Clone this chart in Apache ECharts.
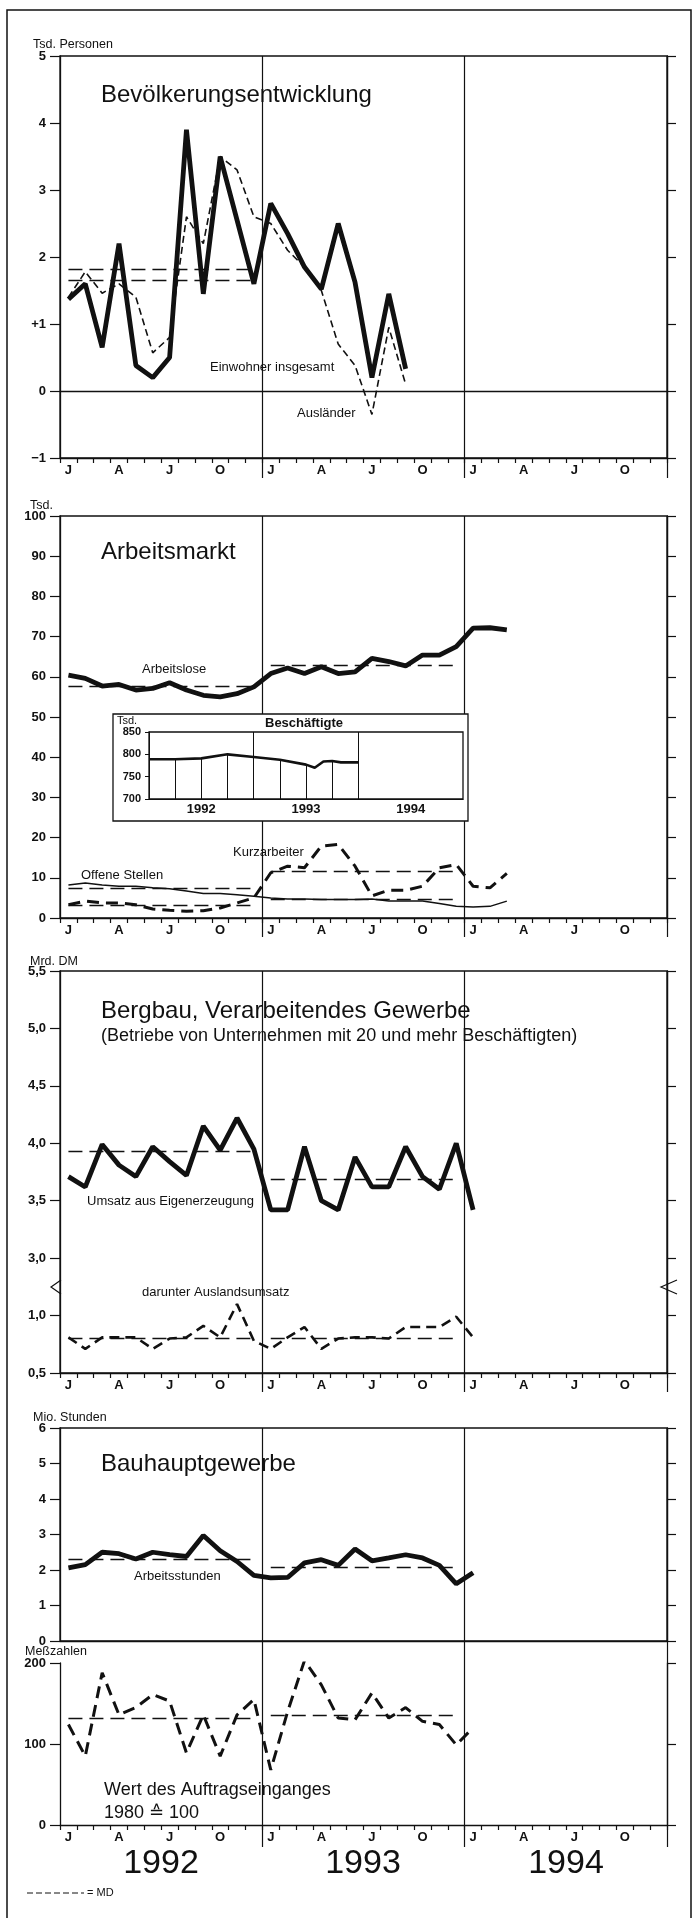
<!DOCTYPE html>
<html><head><meta charset="utf-8">
<script src="https://cdn.jsdelivr.net/npm/echarts@6/dist/echarts.min.js"></script>
<style>html,body{margin:0;padding:0;background:#fff}#c{width:694px;height:1918px}</style>
</head><body><div id="c"></div>
<script>
// ---------- data ----------
const monthNames = ['J','F','M','A','M','J','J','A','S','O','N','D'];
const yearLabels = ['1992','1993','1994'];
const categories = [].concat(monthNames, monthNames, monthNames);

// Bevölkerungsentwicklung (Tsd. Personen), Jan 1992 - Sep 1993
const einwohner  = [1.37,1.6,0.65,2.2,0.38,0.2,0.5,3.9,1.45,3.5,2.55,1.6,2.8,2.35,1.85,1.52,2.5,1.62,0.2,1.45,0.33];
const auslaender = [1.4,1.78,1.46,1.6,1.4,0.57,0.8,2.6,2.2,3.5,3.3,2.6,2.5,2.1,1.85,1.5,0.7,0.38,-0.35,0.95,0.1];
const mdEinwohner  = [1.66];
const mdAuslaender = [1.82];

// Arbeitsmarkt (Tsd.), Jan 1992 - Mar 1994
const arbeitslose   = [60.4,59.6,57.7,58.1,56.7,57.1,58.5,56.7,55.4,55.0,55.8,57.5,60.8,62.2,60.8,62.5,60.8,61.2,64.6,63.8,62.7,65.4,65.4,67.5,72.1,72.2,71.7];
const kurzarbeiter  = [3.3,4.2,3.75,3.75,3.3,2.25,1.9,1.7,1.8,2.5,3.75,5.0,11.25,12.9,12.5,17.9,18.3,12.9,5.5,6.9,6.9,7.9,12.5,13.3,7.9,7.5,11.1];
const offeneStellen = [8.2,8.7,8.2,7.9,7.9,7.5,7.3,6.7,6.1,6.1,5.8,5.4,5.0,4.75,4.75,4.6,4.6,4.6,4.75,4.2,4.2,4.2,3.6,2.9,2.75,2.9,4.2];
const mdArbeitslose   = [57.7, 62.9];
const mdKurzarbeiter  = [3.2, 11.7];
const mdOffeneStellen = [7.3, 4.75];

// Beschäftigte (inset), month index since Jan 1992 -> Tsd.
const beschMonth = [0,3,6,9,12,15,18,19,20,21,22,24];
const beschValue = [789,789,791,800,794,788,777,770,784,785,782,782];
const beschDropMonths = [3,6,9,15,18,21];
const beschTicks = [700,750,800,850];

// Bergbau, Verarbeitendes Gewerbe (Mrd. DM), Jan 1992 - Jan 1994
const umsatz  = [3.71,3.62,3.99,3.81,3.71,3.97,3.84,3.72,4.15,3.94,4.22,3.95,3.42,3.42,3.97,3.5,3.42,3.88,3.62,3.62,3.97,3.71,3.6,4.0,3.42];
const ausland = [0.81,0.71,0.81,0.81,0.81,0.71,0.8,0.81,0.91,0.81,1.1,0.78,0.71,0.81,0.9,0.71,0.8,0.81,0.81,0.8,0.9,0.9,0.9,0.99,0.81];
const mdUmsatz  = [3.93, 3.69];
const mdAusland = [0.80, 0.80];

// Bauhauptgewerbe
const arbeitsstunden = [2.06,2.15,2.5,2.46,2.31,2.5,2.43,2.38,2.97,2.54,2.24,1.85,1.78,1.79,2.2,2.29,2.13,2.59,2.26,2.34,2.43,2.34,2.13,1.61,1.92];
const mdArbeitsstunden = [2.29, 2.08];
const auftrag = [124,85,188,136,145,161,153,89,136,85,136,155,68,140,203,173,132,130,163,132,145,128,124,99,120];
const mdAuftrag = [132, 135];

// ---------- styling helpers ----------
const FONT = '"Liberation Sans", Arial, sans-serif';
const BLACK = '#111';
const AXW = 1.3;
const fmtDE = v => v.toFixed(1).replace('.', ',');
const isYear = i => i === 12 || i === 24;

function mdSegs(vals){
  const out = [];
  vals.forEach((v,i) => { if (v != null) out.push([{coord:[i*12, v]},{coord:[i*12+11, v]}]); });
  return out;
}
function mdMark(vals, extra){
  return {silent:true, symbol:'none', label:{show:false}, animation:false,
    lineStyle:{color:BLACK, width:1.3, type:[14,7]},
    emphasis:{disabled:true},
    data: mdSegs(vals).concat(extra || [])};
}
function monthAxis(gi, showLabels, showTicks){
  return {type:'category', gridIndex:gi, data:categories, boundaryGap:true, position:'bottom',
    axisLine:{show:true, onZero:false, lineStyle:{color:BLACK, width:AXW}},
    axisTick:{show:showTicks, interval:0, length:5, lineStyle:{color:BLACK, width:1.2}},
    axisLabel:{show:showLabels, interval:i => i % 3 === 0, margin:6, color:BLACK,
      fontFamily:FONT, fontSize:13, fontWeight:'bold'},
    splitLine:{show:true, interval:i => isYear(i), lineStyle:{color:BLACK, width:1.2}}};
}
function yearTickAxis(gi, len){
  return {type:'category', gridIndex:gi, data:categories, boundaryGap:true, position:'bottom',
    axisLine:{show:false, onZero:false}, axisLabel:{show:false}, splitLine:{show:false},
    axisTick:{show:true, interval:i => isYear(i), length:len, lineStyle:{color:BLACK, width:1.2}}};
}
function leftY(gi, min, max, interval, formatter, opts){
  return Object.assign({type:'value', gridIndex:gi, position:'left', min, max, interval,
    axisLine:{show:true, onZero:false, lineStyle:{color:BLACK, width:AXW}},
    axisTick:{show:true, length:10, lineStyle:{color:BLACK, width:1.2}},
    axisLabel:{show:true, margin:14, color:BLACK, fontFamily:FONT, fontSize:13, fontWeight:'bold', formatter},
    splitLine:{show:false}}, opts || {});
}
function rightY(gi, min, max, interval){
  return {type:'value', gridIndex:gi, position:'right', min, max, interval,
    axisLine:{show:true, onZero:false, lineStyle:{color:BLACK, width:AXW}},
    axisTick:{show:true, length:9, lineStyle:{color:BLACK, width:1.2}},
    axisLabel:{show:false}, splitLine:{show:false}};
}
function line(name, xi, yi, data, lineStyle, extra){
  return Object.assign({name, type:'line', xAxisIndex:xi, yAxisIndex:yi, data,
    symbol:'none', smooth:false, silent:true, animation:false, z:3,
    lineStyle:Object.assign({color:BLACK}, lineStyle)}, extra || {});
}
function T(text, x, y, size, opts){
  opts = opts || {};
  return {type:'text', x, y, z:50, silent:true,
    style:{text, fill:BLACK, fontFamily:FONT, fontSize:size, fontWeight:opts.weight || 'normal',
      align:opts.align || 'left', verticalAlign:'middle'}};
}
const border = {show:true, borderColor:BLACK, borderWidth:AXW, backgroundColor:'transparent'};

const SOLID = {width:4.8};
const THINDASH = {width:1.6, type:[7,4]};
const THICKDASH = {width:3, type:[12,7]};

const option = {
  animation:false,
  grid:[
    Object.assign({left:60, top:56, width:607, height:402}, border),
    Object.assign({left:60, top:516, width:607, height:402}, border),
    Object.assign({left:149, top:732, width:314, height:67, z:10}, border),
    Object.assign({left:60, top:971, width:607, height:402}, border),
    Object.assign({left:60, top:1428, width:607, height:213}, border),
    {left:60, top:1663, width:607, height:162}
  ],
  xAxis:[
    monthAxis(0, true, true), yearTickAxis(0, 20),
    monthAxis(1, true, true), yearTickAxis(1, 19),
    {type:'value', gridIndex:2, min:0, max:36, z:10,
      axisLine:{show:true, lineStyle:{color:BLACK, width:1}}, axisTick:{show:false}, splitLine:{show:false},
      axisLabel:{show:true, customValues:[6,18,30], formatter:v => yearLabels[Math.round((v-6)/12)],
        margin:4, color:BLACK, fontFamily:FONT, fontSize:13, fontWeight:'bold'}},
    monthAxis(3, true, true), yearTickAxis(3, 19),
    monthAxis(4, false, false), yearTickAxis(4, 22),
    monthAxis(5, true, true), yearTickAxis(5, 22)
  ],
  yAxis:[
    leftY(0, -1, 5, 1, v => v === 1 ? '+1' : (v < 0 ? '\u2212' + Math.abs(v) : String(v))),
    rightY(0, -1, 5, 1),
    leftY(1, 0, 100, 10, v => String(v)),
    rightY(1, 0, 100, 10),
    {type:'value', gridIndex:2, min:700, max:850, interval:50, z:10,
      axisLine:{show:true, lineStyle:{color:BLACK, width:1}},
      axisTick:{show:true, length:4, lineStyle:{color:BLACK}},
      axisLabel:{margin:8, color:BLACK, fontFamily:FONT, fontSize:11, fontWeight:'bold', customValues:beschTicks},
      splitLine:{show:false}},
    leftY(3, 2, 5.5, 0.5, v => v >= 2.99 ? fmtDE(v) : ''),
    leftY(3, 0.5, 4, 0.5, v => v <= 1.01 ? fmtDE(v) : '', {axisLine:{show:false}, axisTick:{show:false}}),
    rightY(3, 2, 5.5, 0.5),
    leftY(4, 0, 6, 1, v => String(v)),
    rightY(4, 0, 6, 1),
    leftY(5, 0, 200, 100, v => String(v)),
    rightY(5, 0, 200, 100)
  ],
  series:[
    line('Einwohner insgesamt', 0, 0, einwohner, SOLID,
      {z:4, markLine: mdMark(mdEinwohner, [{yAxis:0, lineStyle:{type:'solid', width:1.3, color:BLACK}}])}),
    line('Ausländer', 0, 0, auslaender, THINDASH, {markLine: mdMark(mdAuslaender)}),

    line('Arbeitslose', 2, 2, arbeitslose, SOLID, {markLine: mdMark(mdArbeitslose)}),
    line('Kurzarbeiter', 2, 2, kurzarbeiter, THICKDASH, {markLine: mdMark(mdKurzarbeiter)}),
    line('Offene Stellen', 2, 2, offeneStellen, {width:1.5}, {markLine: mdMark(mdOffeneStellen)}),

    line('Beschäftigte', 4, 4, beschMonth.map((m,i) => [m, beschValue[i]]), {width:2.6}, {z:11,
      markLine:{silent:true, symbol:'none', label:{show:false}, animation:false, emphasis:{disabled:true},
        lineStyle:{color:BLACK, width:1, type:'solid'},
        data: beschDropMonths.map(m => [{coord:[m, 700]},{coord:[m, beschValue[beschMonth.indexOf(m)]]}])
          .concat([{xAxis:12}, {xAxis:24}])}}),

    line('Umsatz aus Eigenerzeugung', 5, 5, umsatz, SOLID, {markLine: mdMark(mdUmsatz)}),
    line('darunter Auslandsumsatz', 5, 6, ausland, {width:2.6, type:[10,6]}, {markLine: mdMark(mdAusland)}),

    line('Arbeitsstunden', 7, 8, arbeitsstunden, SOLID, {markLine: mdMark(mdArbeitsstunden)}),
    line('Wert des Auftragseinganges', 9, 10, auftrag, THICKDASH, {markLine: mdMark(mdAuftrag)})
  ],
  graphic:[
    {type:'polyline', z:1, silent:true, shape:{points:[[7,1918],[7,10],[691,10],[691,1918]]},
      style:{stroke:BLACK, lineWidth:1.5, fill:null}},
    {type:'rect', z:5, silent:true, shape:{x:113, y:714, width:355, height:107},
      style:{fill:'#fff', stroke:BLACK, lineWidth:1.3}},
    {type:'polyline', z:20, silent:true, shape:{points:[[61,1280],[51,1287],[61,1294]]},
      style:{stroke:BLACK, lineWidth:1.2, fill:null}},
    {type:'polyline', z:20, silent:true, shape:{points:[[677,1280],[661,1287],[677,1294]]},
      style:{stroke:BLACK, lineWidth:1.2, fill:null}},
    {type:'line', z:20, silent:true, shape:{x1:27, y1:1893, x2:84, y2:1893},
      style:{stroke:BLACK, lineWidth:1, lineDash:[6,3]}},
    T('= MD', 87, 1893, 11),

    T('Tsd. Personen', 33, 45, 12.5),
    T('Bevölkerungsentwicklung', 101, 95, 24),
    T('Einwohner insgesamt', 210, 367, 13),
    T('Ausländer', 297, 413, 13),

    T('Tsd.', 30, 506, 12.5),
    T('Arbeitsmarkt', 101, 552, 24),
    T('Arbeitslose', 142, 669, 13),
    T('Offene Stellen', 81, 875, 13),
    T('Kurzarbeiter', 233, 852, 13),
    Object.assign(T('Tsd.', 117, 721, 11), {z:60}),
    Object.assign(T('Beschäftigte', 304, 723, 13, {weight:'bold', align:'center'}), {z:60}),

    T('Mrd. DM', 30, 962, 12.5),
    T('Bergbau, Verarbeitendes Gewerbe', 101, 1011, 24),
    T('(Betriebe von Unternehmen mit 20 und mehr Beschäftigten)', 101, 1036, 18),
    T('Umsatz aus Eigenerzeugung', 87, 1201, 13),
    T('darunter Auslandsumsatz', 142, 1292, 13),

    T('Mio. Stunden', 33, 1418, 12.5),
    T('Bauhauptgewerbe', 101, 1464, 24),
    T('Arbeitsstunden', 134, 1576, 13),

    T('Meßzahlen', 25, 1652, 12.5),
    T('Wert des Auftragseinganges', 104, 1790, 18),
    T('1980 \u2259 100', 104, 1813, 18),

    T(yearLabels[0], 161, 1864, 34, {align:'center'}),
    T(yearLabels[1], 363, 1864, 34, {align:'center'}),
    T(yearLabels[2], 566, 1864, 34, {align:'center'})
  ]
};

const chart = echarts.init(document.getElementById('c'), null, {renderer:'canvas', width:694, height:1918});
chart.setOption(option);
</script>
</body></html>
